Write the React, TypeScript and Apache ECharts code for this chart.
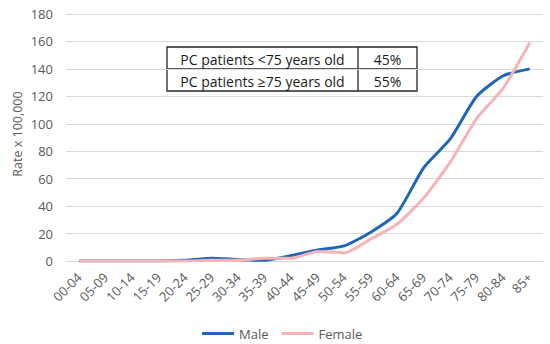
import React, { useEffect, useRef } from "react";
import * as echarts from "echarts";

const categories = ["00-04","05-09","10-14","15-19","20-24","25-29","30-34","35-39","40-44","45-49","50-54","55-59","60-64","65-69","70-74","75-79","80-84","85+"];
const maleValues = [0, 0, 0, 0, 0.5, 2, 1, 0.5, 4, 8, 11, 21, 35, 68, 89, 120, 135, 140];
const femaleValues = [0, 0, 0, 0, 0, 0.5, 0.5, 2, 2, 7, 6, 16, 27, 46, 72, 104, 126, 159];
const tableRows = [
  ["PC patients <75 years old", "45%"],
  ["PC patients \u226575 years old", "55%"],
];
const yTicks = { min: 0, max: 180, interval: 20 };

const FONT = "'Open Sans', 'Noto Sans', sans-serif";

export default function App() {
  const ref = useRef<HTMLDivElement>(null);
  useEffect(() => {
    if (!ref.current) return;
    const chart = echarts.init(ref.current, null, { renderer: "svg" });
    const bx = 167, by = 47, bw = 250, rh = 22, cx = 358;
    const tableEls: any[] = [
      { type: "rect", shape: { x: bx, y: by, width: bw, height: rh * 2 }, style: { fill: "#fff", stroke: "#262626", lineWidth: 1.3 } },
      { type: "line", shape: { x1: bx, y1: by + rh, x2: bx + bw, y2: by + rh }, style: { stroke: "#262626", lineWidth: 1.3 } },
      { type: "line", shape: { x1: cx, y1: by, x2: cx, y2: by + rh * 2 }, style: { stroke: "#262626", lineWidth: 1.3 } },
    ];
    tableRows.forEach((r, i) => {
      tableEls.push({ type: "text", x: (bx + cx) / 2, y: by + rh * i + rh / 2 + 1, style: { text: r[0], fill: "#1a1a1a", font: `14px ${FONT}`, align: "center", verticalAlign: "middle" } });
      tableEls.push({ type: "text", x: (cx + bx + bw) / 2, y: by + rh * i + rh / 2 + 1, style: { text: r[1], fill: "#1a1a1a", font: `14px ${FONT}`, align: "center", verticalAlign: "middle" } });
    });
    chart.setOption({
      animation: false,
      backgroundColor: "#fff",
      grid: { left: 66, right: 7, top: 14, bottom: 83 },
      legend: {
        top: 322,
        left: 197,
        itemWidth: 32,
        itemHeight: 3,
        itemGap: 13,
        icon: "rect",
        textStyle: { color: "#595959", fontSize: 13, fontFamily: FONT },
        data: ["Male", "Female"],
      },
      xAxis: {
        type: "category",
        data: categories,
        boundaryGap: true,
        axisLine: { lineStyle: { color: "#d9d9d9" } },
        axisTick: { show: false },
        axisLabel: { rotate: 45, color: "#595959", fontSize: 13, fontFamily: FONT, margin: 14, interval: 0 },
      },
      yAxis: {
        type: "value",
        min: yTicks.min,
        max: yTicks.max,
        interval: yTicks.interval,
        axisLine: { show: false },
        axisTick: { show: false },
        splitLine: { lineStyle: { color: "#d9d9d9" } },
        axisLabel: { color: "#595959", fontSize: 13, fontFamily: FONT, margin: 13 },
      },
      graphic: [
        { type: "text", x: 17, y: 134, rotation: Math.PI / 2, style: { text: "Rate x 100,000", fill: "#595959", font: `12.5px ${FONT}`, align: "center", verticalAlign: "middle" } },
        { type: "group", children: tableEls },
      ],
      series: [
        { name: "Male", type: "line", data: maleValues, smooth: 0.2, symbol: "none", lineStyle: { color: "#1F66B8", width: 3 }, itemStyle: { color: "#1F66B8" } },
        { name: "Female", type: "line", data: femaleValues, smooth: 0.2, symbol: "none", lineStyle: { color: "#F7B3B5", width: 3 }, itemStyle: { color: "#F7B3B5" } },
      ],
    });
    return () => chart.dispose();
  }, []);
  return <div ref={ref} style={{ width: 550, height: 344, position: "absolute", left: 0, top: 0 }} />;
}
